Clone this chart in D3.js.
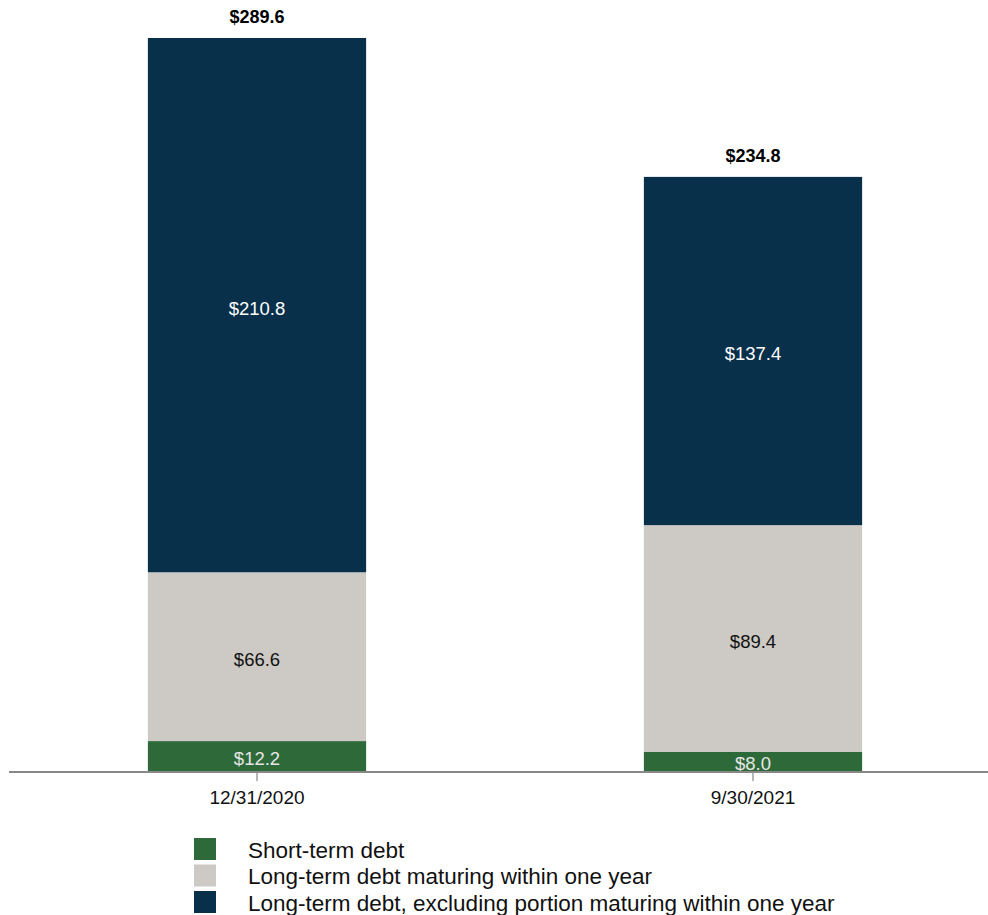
<!DOCTYPE html>
<html>
<head>
<meta charset="utf-8">
<script src="https://cdn.jsdelivr.net/npm/d3@7"></script>
<style>
  body { margin: 0; background: #fff; }
  svg { display: block; font-family: "Liberation Sans", Arial, sans-serif; }
</style>
</head>
<body>
<svg id="chart" width="988" height="915"></svg>
<script>
// data (US$ billions)
var dates = ["12/31/2020", "9/30/2021"];
var seriesNames = [
    "Short-term debt",
    "Long-term debt maturing within one year",
    "Long-term debt, excluding portion maturing within one year"
];
var shortTerm = [12.2, 8.0];
var longTermCurrent = [66.6, 89.4];
var longTermOther = [210.8, 137.4];
var totals = [289.6, 234.8];

var colors = ["#2e6a39", "#cdc9c4", "#08304b"];
var labelColors = ["#e6e6e6", "#111", "#fff"];

var svg = d3.select("#chart");
var margin = { top: 38, bottom: 143, left: 10, right: 0 };
var width = 988, height = 915;
var baseY = height - margin.bottom;

var rows = dates.map(function (d, i) {
    return { date: d, s0: shortTerm[i], s1: longTermCurrent[i], s2: longTermOther[i], total: totals[i] };
});
var keys = ["s0", "s1", "s2"];
var stacked = d3.stack().keys(keys)(rows);

var x = d3.scaleBand()
    .domain(dates)
    .range([9, 1001])
    .paddingInner(0.56)
    .paddingOuter(0.28);

var y = d3.scaleLinear()
    .domain([0, 289.6])
    .range([baseY, margin.top]);

// bars
var layers = svg.append("g").attr("class", "bars")
    .selectAll("g")
    .data(stacked)
    .enter()
    .append("g")
    .attr("fill", function (d, i) { return colors[i]; });

layers.selectAll("rect")
    .data(function (d) { return d; })
    .enter()
    .append("rect")
    .attr("x", function (d) { return x(d.data.date); })
    .attr("width", x.bandwidth())
    .attr("y", function (d) { return y(d[1]); })
    .attr("height", function (d) { return y(d[0]) - y(d[1]); });

// segment labels
stacked.forEach(function (layer, li) {
    svg.append("g").selectAll("text")
        .data(layer)
        .enter()
        .append("text")
        .attr("x", function (d) { return x(d.data.date) + x.bandwidth() / 2; })
        .attr("y", function (d) { return (y(d[0]) + y(d[1])) / 2 + (li === 0 ? 2 : 3); })
        .attr("dy", "0.35em")
        .attr("text-anchor", "middle")
        .style("font-size", "18.5px")
        .style("fill", labelColors[li])
        .text(function (d) { return "$" + (d[1] - d[0]).toFixed(1); });
});

// totals
svg.append("g").selectAll("text")
    .data(rows)
    .enter()
    .append("text")
    .attr("x", function (d) { return x(d.date) + x.bandwidth() / 2; })
    .attr("y", function (d) { return y(d.total) - 15; })
    .attr("text-anchor", "middle")
    .style("font-size", "18px")
    .style("font-weight", "bold")
    .style("fill", "#000")
    .text(function (d) { return "$" + d.total.toFixed(1); });

// x axis
var xAxis = d3.axisBottom(x).tickSize(9).tickSizeOuter(0).tickPadding(10);
var xGroup = svg.append("g")
    .attr("transform", "translate(0," + baseY + ")")
    .call(xAxis);
xGroup.select(".domain").remove();
xGroup.selectAll(".tick line").attr("stroke", "#888").attr("stroke-width", 1.2);
xGroup.selectAll(".tick text")
    .style("font-size", "19px")
    .style("font-family", "'Liberation Sans', Arial, sans-serif")
    .style("fill", "#111");
svg.append("line")
    .attr("x1", 9).attr("x2", 988)
    .attr("y1", baseY).attr("y2", baseY)
    .attr("stroke", "#888")
    .attr("stroke-width", 2);

// legend
var legend = svg.append("g").attr("transform", "translate(194,838)");
var item = legend.selectAll("g")
    .data(seriesNames)
    .enter()
    .append("g")
    .attr("transform", function (d, i) { return "translate(0," + (i * 26.5) + ")"; });
item.append("rect")
    .attr("width", 22)
    .attr("height", 22)
    .attr("fill", function (d, i) { return colors[i]; });
item.append("text")
    .attr("x", 54)
    .attr("y", 12)
    .attr("dy", "0.35em")
    .style("font-size", "22.5px")
    .style("fill", "#111")
    .text(function (d) { return d; });
</script>
</body>
</html>
